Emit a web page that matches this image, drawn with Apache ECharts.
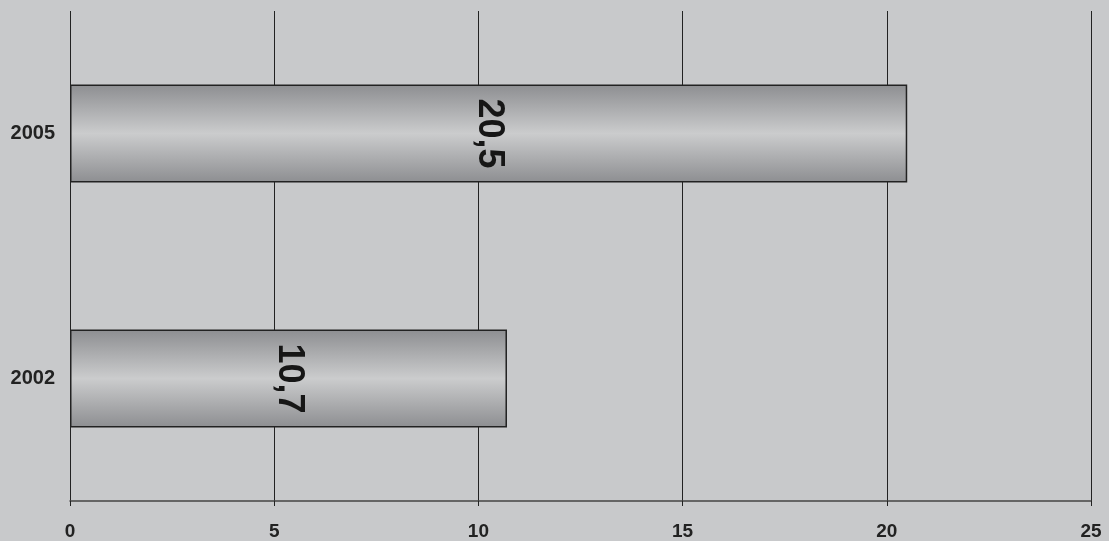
<!DOCTYPE html>
<html>
<head>
<meta charset="utf-8">
<script src="https://cdn.jsdelivr.net/npm/echarts@6/dist/echarts.min.js"></script>
<style>
html,body{margin:0;padding:0;background:#c8c9cb;}
#chart{width:1109px;height:541px;}
</style>
</head>
<body>
<div id="chart"></div>
<script>
const categories = ['2002', '2005'];
const values = [10.7, 20.5];
const xTicks = [0, 5, 10, 15, 20, 25];

const chart = echarts.init(document.getElementById('chart'));
chart.setOption({
  backgroundColor: '#c8c9cb',
  animation: false,
  grid: { left: 70, right: 18, top: 11, bottom: 40, containLabel: false },
  xAxis: {
    type: 'value',
    min: xTicks[0],
    max: xTicks[xTicks.length - 1],
    interval: 5,
    axisLine: { show: true, lineStyle: { color: '#444', width: 1.5 } },
    axisTick: { show: true, length: 5, lineStyle: { color: '#222', width: 1 } },
    splitLine: { show: true, lineStyle: { color: '#222', width: 1 } },
    axisLabel: {
      color: '#222', fontFamily: 'Liberation Sans, Arial, sans-serif',
      fontWeight: 'bold', fontSize: 19, margin: 21
    }
  },
  yAxis: {
    type: 'category',
    data: categories,
    axisLine: { show: false },
    axisTick: { show: false },
    splitLine: { show: false },
    axisLabel: {
      color: '#222', fontFamily: 'Liberation Sans, Arial, sans-serif',
      fontWeight: 'bold', fontSize: 20, margin: 15
    }
  },
  series: [{
    type: 'bar',
    data: values,
    barWidth: '40%',
    itemStyle: {
      borderColor: '#222',
      borderWidth: 1.5,
      color: new echarts.graphic.LinearGradient(0, 0, 0, 1, [
        { offset: 0, color: '#8d8e91' },
        { offset: 0.5, color: '#cbcccd' },
        { offset: 1, color: '#8d8e91' }
      ])
    },
    label: {
      show: true,
      position: 'inside',
      rotate: -90,
      color: '#161616',
      fontFamily: 'Liberation Sans, Arial, sans-serif',
      fontWeight: 'bold',
      fontSize: 36,
      formatter: p => String(p.value).replace('.', ',')
    }
  }]
});
</script>
</body>
</html>
